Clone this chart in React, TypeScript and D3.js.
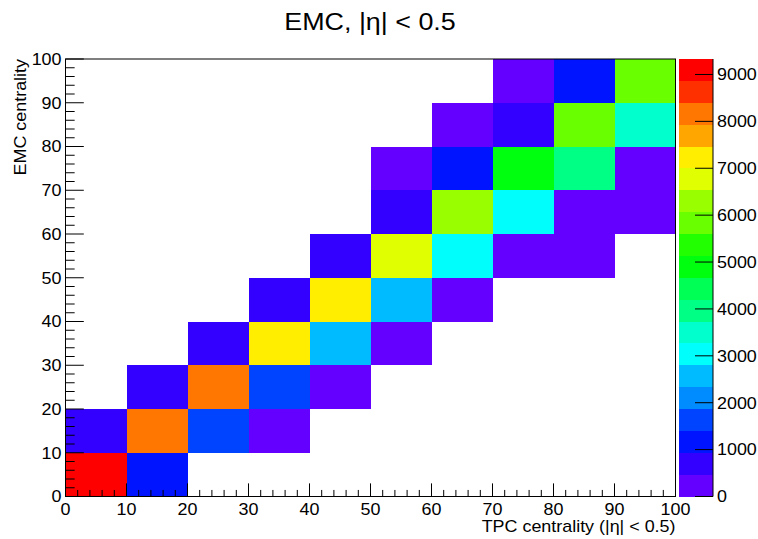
import React from "react";
import * as d3 from "d3";

// Bin edges (centrality, %) along both axes
const tpcEdges = [0, 10, 20, 30, 40, 50, 60, 70, 80, 90, 100];
const emcEdges = [0, 10, 20, 30, 40, 50, 60, 70, 80, 90, 100];

// Event counts: one row per EMC centrality bin, one column per TPC centrality bin
const counts: number[][] = [
  [9330, 1180, 0, 0, 0, 0, 0, 0, 0, 0],
  [710, 8190, 1640, 260, 0, 0, 0, 0, 0, 0],
  [0, 650, 8120, 1590, 210, 0, 0, 0, 0, 0],
  [0, 0, 690, 7260, 2540, 240, 0, 0, 0, 0],
  [0, 0, 0, 740, 7190, 2610, 200, 0, 0, 0],
  [0, 0, 0, 0, 680, 6760, 3020, 250, 180, 0],
  [0, 0, 0, 0, 0, 720, 6290, 3050, 270, 220],
  [0, 0, 0, 0, 0, 190, 1160, 4890, 3950, 260],
  [0, 0, 0, 0, 0, 0, 230, 700, 5820, 3480],
  [0, 0, 0, 0, 0, 0, 0, 240, 1150, 5850],
];

const axisTicks = [0, 10, 20, 30, 40, 50, 60, 70, 80, 90, 100];
const zTicks = [0, 1000, 2000, 3000, 4000, 5000, 6000, 7000, 8000, 9000];

const titleText = "EMC, |η| < 0.5";
const xTitle = "TPC centrality (|η| < 0.5)";
const yTitle = "EMC centrality";

const W = 758;
const H = 539;
const frame = { left: 65.5, right: 675.5, top: 59, bottom: 496.5 };
const bar = { left: 679, right: 713 };
const nContours = 20;
const font = "'Liberation Sans', Arial, Helvetica, sans-serif";
const sx = 1.12; // horizontal glyph widening

// Violet -> red "pretty" palette: 49 HLS hues plus red at the end
const basePalette: string[] = (() => {
  const out: string[] = [];
  for (let i = 0; i < 49; i++) {
    const hue = 280 - (i + 1) * (280 / 50);
    out.push(d3.hsl(hue, 1, 0.5).formatHex());
  }
  out.push("#ff0000");
  return out;
})();
const levelColor = (k: number) =>
  basePalette[Math.floor(((k + 0.99) * basePalette.length) / nContours)];

type TProps = {
  x: number;
  y: number;
  size: number;
  anchor?: "start" | "middle" | "end";
  rotate?: number;
  children: React.ReactNode;
};
const T = ({ x, y, size, anchor = "start", rotate = 0, children }: TProps) => (
  <text
    transform={`translate(${x},${y}) rotate(${rotate}) scale(${sx},1)`}
    fontSize={size}
    fontFamily={font}
    textAnchor={anchor}
    fill="#000"
  >
    {children}
  </text>
);

export default function App() {
  const x = d3.scaleLinear().domain([0, 100]).range([frame.left, frame.right]);
  const y = d3.scaleLinear().domain([0, 100]).range([frame.bottom, frame.top]);
  const zMax = d3.max(counts.flat()) as number;
  const z = d3.scaleLinear().domain([0, zMax]).range([frame.bottom, frame.top]);
  const zLevel = (v: number) =>
    Math.min(nContours - 1, Math.floor((v / zMax) * nContours));

  const cells: { x0: number; x1: number; y0: number; y1: number; c: string }[] = [];
  counts.forEach((row, j) =>
    row.forEach((v, i) => {
      if (v <= 0) return;
      cells.push({
        x0: x(tpcEdges[i]),
        x1: x(tpcEdges[i + 1]),
        y0: y(emcEdges[j + 1]),
        y1: y(emcEdges[j]),
        c: levelColor(zLevel(v)),
      });
    })
  );

  const xMinor = x.ticks(50);
  const yMinor = y.ticks(50);
  const xMajorLen = 0.03 * (frame.bottom - frame.top);
  const yMajorLen = 0.03 * (frame.right - frame.left);

  const bands = d3.range(nContours).map((k) => ({
    y0: z((zMax * (k + 1)) / nContours),
    y1: z((zMax * k) / nContours),
    c: levelColor(k),
  }));

  return (
    <svg
      width={W}
      height={H}
      style={{ position: "absolute", left: 0, top: 0, background: "#fff" }}
    >
      <rect width={W} height={H} fill="#fff" />

      {/* histogram cells */}
      {cells.map((d, i) => (
        <rect
          key={i}
          x={d.x0}
          y={d.y0}
          width={d.x1 - d.x0}
          height={d.y1 - d.y0}
          fill={d.c}
          shapeRendering="crispEdges"
        />
      ))}

      {/* frame */}
      <rect
        x={frame.left}
        y={frame.top}
        width={frame.right - frame.left}
        height={frame.bottom - frame.top}
        fill="none"
        stroke="#000"
        strokeWidth={1}
      />

      {/* x axis ticks */}
      {xMinor.map((t) => {
        const major = t % 10 === 0;
        const len = major ? xMajorLen : xMajorLen / 2;
        return (
          <line
            key={"xt" + t}
            x1={x(t)}
            x2={x(t)}
            y1={frame.bottom}
            y2={frame.bottom - len}
            stroke="#000"
            strokeWidth={1}
          />
        );
      })}
      {/* y axis ticks */}
      {yMinor.map((t) => {
        const major = t % 10 === 0;
        const len = major ? yMajorLen : yMajorLen / 2;
        return (
          <line
            key={"yt" + t}
            x1={frame.left}
            x2={frame.left + len}
            y1={y(t)}
            y2={y(t)}
            stroke="#000"
            strokeWidth={1}
          />
        );
      })}

      {/* tick labels */}
      {axisTicks.map((t) => (
        <T key={"xl" + t} x={x(t)} y={frame.bottom + 18.5} size={16} anchor="middle">
          {t}
        </T>
      ))}
      {axisTicks.map((t) => (
        <T key={"yl" + t} x={frame.left - 4} y={y(t) + 5.8} size={16} anchor="end">
          {t}
        </T>
      ))}

      {/* colour scale */}
      {bands.map((b, k) => (
        <rect
          key={"b" + k}
          x={bar.left}
          y={b.y0}
          width={bar.right - bar.left}
          height={b.y1 - b.y0}
          fill={b.c}
          shapeRendering="crispEdges"
        />
      ))}
      <line
        x1={bar.right}
        x2={bar.right}
        y1={frame.top}
        y2={frame.bottom}
        stroke="#000"
        strokeWidth={1}
      />
      {zTicks.map((t) => (
        <g key={"z" + t}>
          <line
            x1={bar.right - 18}
            x2={bar.right}
            y1={z(t)}
            y2={z(t)}
            stroke="#000"
            strokeWidth={1}
          />
          <T x={bar.right + 4} y={z(t) + 5.8} size={16}>
            {t}
          </T>
        </g>
      ))}

      {/* titles */}
      <T x={370} y={30} size={24} anchor="middle">
        {titleText}
      </T>
      <T x={frame.right} y={532} size={16} anchor="end">
        {xTitle}
      </T>
      <T x={26} y={frame.top} size={16} anchor="end" rotate={-90}>
        {yTitle}
      </T>
    </svg>
  );
}
